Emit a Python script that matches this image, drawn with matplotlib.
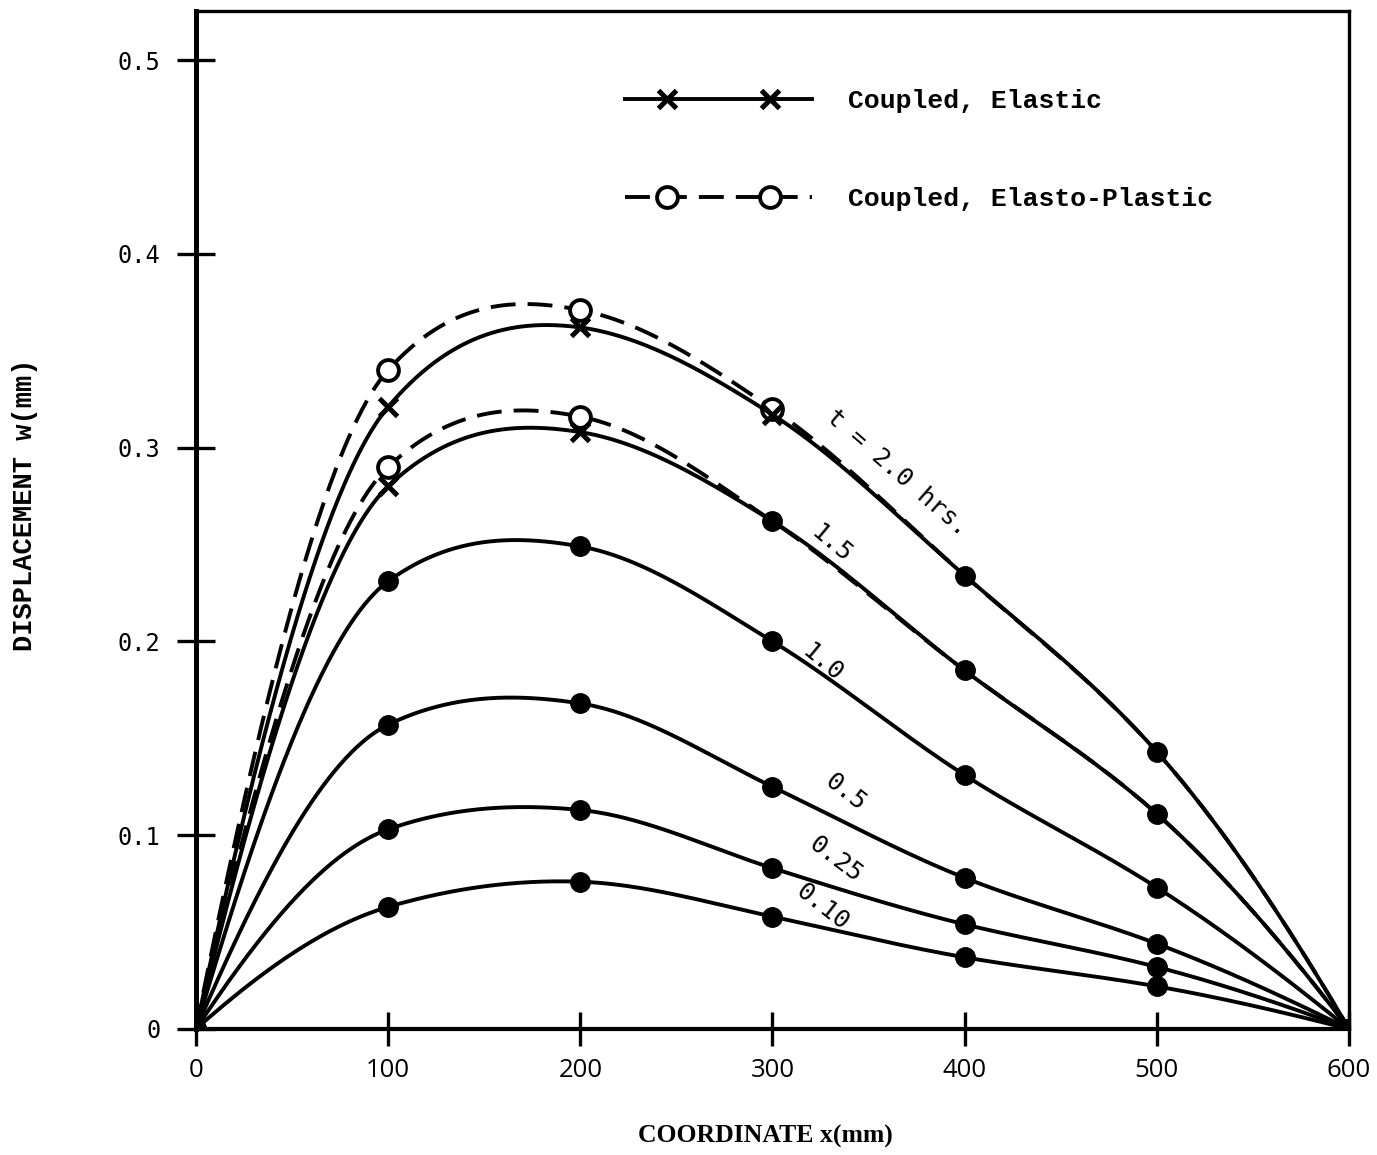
import numpy as np
import matplotlib
matplotlib.use("Agg")
from matplotlib import pyplot as plt
from matplotlib.lines import Line2D
from matplotlib.legend_handler import HandlerLine2D

# values (x in mm, w in mm)
x_mm = [0, 100, 200, 300, 400, 500, 600]

w_el_20 = [0, 0.321, 0.362, 0.317, 0.234, 0.143, 0]
w_el_15 = [0, 0.280, 0.308, 0.262, 0.185, 0.111, 0]
w_el_10 = [0, 0.231, 0.249, 0.200, 0.131, 0.073, 0]
w_el_05 = [0, 0.157, 0.168, 0.125, 0.078, 0.044, 0]
w_el_025 = [0, 0.103, 0.113, 0.083, 0.054, 0.032, 0]
w_el_010 = [0, 0.063, 0.076, 0.058, 0.037, 0.022, 0]

w_pl_20 = [0, 0.340, 0.371, 0.320, 0.234, 0.143, 0]
w_pl_15 = [0, 0.290, 0.316, 0.262, 0.185, 0.111, 0]

curve_labels = ["t = 2.0 hrs.", "1.5", "1.0", "0.5", "0.25", "0.10"]
label_x = [365, 331, 326, 338, 333, 326]
label_y = [0.287, 0.250, 0.189, 0.122, 0.0876, 0.063]
label_rot = [-41, -40, -40, -38, -37, -38]

x_ticks = [0, 100, 200, 300, 400, 500, 600]
y_ticks = [0, 0.1, 0.2, 0.3, 0.4, 0.5]
y_ticklabels = ["0", "0.1", "0.2", "0.3", "0.4", "0.5"]


def hermite(xk, yk, m, xs):
    idx = np.clip(np.searchsorted(xk, xs) - 1, 0, len(xk) - 2)
    h = xk[idx + 1] - xk[idx]
    t = (xs - xk[idx]) / h
    return ((2 * t ** 3 - 3 * t ** 2 + 1) * yk[idx] + (t ** 3 - 2 * t ** 2 + t) * h * m[idx]
            + (-2 * t ** 3 + 3 * t ** 2) * yk[idx + 1] + (t ** 3 - t ** 2) * h * m[idx + 1])


def end_slopes(xk, yk):
    s0 = (-3 * yk[0] + 4 * yk[1] - yk[2]) / (xk[2] - xk[0])
    sn = (3 * yk[-1] - 4 * yk[-2] + yk[-3]) / (xk[-1] - xk[-3])
    return s0, sn


def spline_slopes(xk, yk):
    # clamped cubic spline, returned as nodal slopes
    n = len(xk)
    h = np.diff(xk)
    d = np.diff(yk) / h
    s0, sn = end_slopes(xk, yk)
    A = np.zeros((n, n))
    r = np.zeros(n)
    A[0, 0] = 1
    r[0] = s0
    A[-1, -1] = 1
    r[-1] = sn
    for i in range(1, n - 1):
        A[i, i - 1] = h[i]
        A[i, i] = 2 * (h[i - 1] + h[i])
        A[i, i + 1] = h[i - 1]
        r[i] = 3 * (h[i] * d[i - 1] + h[i - 1] * d[i])
    return np.linalg.solve(A, r)


def pchip_slopes(xk, yk):
    n = len(xk)
    h = np.diff(xk)
    d = np.diff(yk) / h
    m = np.zeros(n)
    for i in range(1, n - 1):
        if d[i - 1] * d[i] > 0:
            w1 = 2 * h[i] + h[i - 1]
            w2 = h[i] + 2 * h[i - 1]
            m[i] = (w1 + w2) / (w1 / d[i - 1] + w2 / d[i])
    m[0], m[-1] = end_slopes(xk, yk)
    return m


def smooth_curve(xk, yk, xs):
    # smooth line through the read points: blend of spline and monotone cubic
    xk = np.asarray(xk, float)
    yk = np.asarray(yk, float)
    m = 0.5 * (spline_slopes(xk, yk) + pchip_slopes(xk, yk))
    return hermite(xk, yk, m, xs)


fig = plt.figure(figsize=(13.77, 11.55), dpi=100)
ax = fig.add_axes([0.1423, 0.1091, 0.8374, 0.8814])

xs = np.linspace(0, 600, 800)
lw = 2.8
dash = (0, (6.4, 3.1))

elastic = [w_el_20, w_el_15, w_el_10, w_el_05, w_el_025, w_el_010]
plastic = [w_pl_20, w_pl_15]

# elasto-plastic (dashed, open circles)
for k, w in enumerate(plastic):
    ax.plot(xs, smooth_curve(x_mm, w, xs), color="black", lw=lw, ls=dash)
    ax.plot(x_mm, w, ls="none", marker="o", ms=15, mfc="white", mec="black",
            mew=2.8, markevery=[1, 2, 3] if k == 0 else [1, 2])

# elastic (solid)
for k, w in enumerate(elastic):
    ax.plot(xs, smooth_curve(x_mm, w, xs), color="black", lw=lw)
    if k < 2:
        ax.plot(x_mm, w, ls="none", marker="x", ms=13, mec="black", mew=3.6,
                markevery=[1, 2, 3] if k == 0 else [1, 2])
        filled = [0, 4, 5, 6] if k == 0 else [0, 3, 4, 5, 6]
    else:
        filled = [0, 1, 2, 3, 4, 5, 6]
    ax.plot(x_mm, w, ls="none", marker="o", ms=14, mfc="black", mec="black",
            markevery=filled)

for txt, lx, ly, rot in zip(curve_labels, label_x, label_y, label_rot):
    ax.text(lx, ly, txt, rotation=rot, rotation_mode="anchor", ha="center",
            va="center", fontsize=18, family="DejaVu Sans Mono")

ax.set_xlim(0, 600)
ax.set_ylim(0, 0.5253)
ax.set_xticks(x_ticks)
ax.set_xticklabels([str(v) for v in x_ticks], family="Open Sans", fontsize=18.5)
ax.set_yticks(y_ticks)
ax.set_yticklabels(y_ticklabels, family="DejaVu Sans Mono", fontsize=17)
ax.tick_params(axis="x", direction="inout", length=24, width=2.4, pad=9)
ax.tick_params(axis="y", direction="inout", length=27, width=2.4, pad=12)

ax.spines["left"].set_linewidth(3.6)
ax.spines["bottom"].set_linewidth(3.0)
ax.spines["top"].set_linewidth(2.4)
ax.spines["right"].set_linewidth(2.4)

ax.set_xlabel("COORDINATE x(mm)", family="Liberation Serif", fontsize=18.5,
              fontweight="bold", va="center")
ax.xaxis.set_label_coords(0.4935, -0.106)
ax.set_ylabel("DISPLACEMENT w(mm)", family="Liberation Mono", fontsize=19.5,
              fontweight="bold", va="center")
ax.yaxis.set_label_coords(-0.148, 0.515)

# legend: full-length line plus two inset markers per entry
line_el = Line2D([], [], color="black", lw=lw)
mark_el = Line2D([], [], ls="none", marker="x", ms=13, mec="black", mew=3.6)
line_pl = Line2D([], [], color="black", lw=lw, ls=dash)
mark_pl = Line2D([], [], ls="none", marker="o", ms=15, mfc="white",
                 mec="black", mew=2.8)
hmap = {line_el: HandlerLine2D(numpoints=1), line_pl: HandlerLine2D(numpoints=1),
        mark_el: HandlerLine2D(marker_pad=1.6, numpoints=2),
        mark_pl: HandlerLine2D(marker_pad=1.6, numpoints=2)}
ax.legend([(line_el, mark_el), (line_pl, mark_pl)],
          ["Coupled, Elastic", "Coupled, Elasto-Plastic"],
          loc="upper left", bbox_to_anchor=(0.372, 0.923), frameon=False,
          borderpad=0, borderaxespad=0, handlelength=7.1, handletextpad=1.36,
          labelspacing=2.8,
          prop={"family": "Liberation Mono", "weight": "bold", "size": 19},
          handler_map=hmap)

fig.savefig("out.png", dpi=100, facecolor="white")
